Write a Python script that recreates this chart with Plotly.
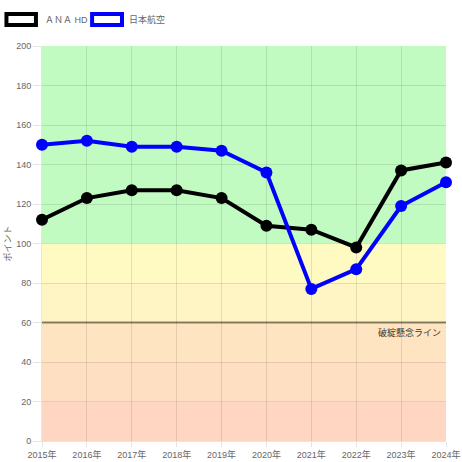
import plotly.graph_objects as go

# data
years = ['2015年', '2016年', '2017年', '2018年', '2019年',
         '2020年', '2021年', '2022年', '2023年', '2024年']
ana = [112, 123, 127, 127, 123, 109, 107, 98, 137, 141]
jal = [150, 152, 149, 149, 147, 136, 77, 87, 119, 131]
series_names = ['ＡＮＡ HD', '日本航空']

band_low = [100, 80, 60, 40, 20, 0]
band_high = [200, 100, 80, 60, 40, 20]
band_colors = ['#c2fbc2', '#fffac2', '#fff4c3', '#ffe4c1', '#ffdfc1', '#ffd6c1']

danger_level = 60
danger_label = '破綻懸念ライン'

FONT = 'Liberation Sans, Arial, Noto Sans CJK JP'
GREY = '#666666'

fig = go.Figure()

for name, vals, col in [(series_names[0], ana, 'black'), (series_names[1], jal, '#0000ff')]:
    fig.add_trace(go.Scatter(
        x=years, y=vals, name=name, mode='lines+markers',
        line=dict(color=col, width=4),
        marker=dict(color=col, size=12),
        cliponaxis=False,
    ))

# coloured background bands
for lo, hi, c in zip(band_low, band_high, band_colors):
    fig.add_shape(type='rect', xref='paper', yref='y', x0=0, x1=1, y0=lo, y1=hi,
                  fillcolor=c, line_width=0, layer='below')

# danger line
fig.add_shape(type='line', xref='paper', yref='y', x0=0, x1=1,
              y0=danger_level, y1=danger_level,
              line=dict(color='#8f8466', width=2), layer='below')
fig.add_annotation(x=1, xref='paper', y=danger_level, yref='y', text=danger_label,
                   showarrow=False, xanchor='right', yanchor='top', yshift=-2, xshift=-3,
                   font=dict(size=9, color='#333333', family=FONT))

# hand made legend above the plot (box with thick border)
legend_items = [(series_names[0], 'black', -0.088, -0.015, 0.003),
                (series_names[1], '#0000ff', 0.124, 0.198, 0.211)]
for name, col, x0, x1, tx in legend_items:
    fig.add_shape(type='rect', xref='paper', yref='paper', x0=x0, x1=x1,
                  y0=1.053, y1=1.081, fillcolor='white', line=dict(color=col, width=4),
                  layer='above')
    fig.add_annotation(x=tx, y=1.067, xref='paper', yref='paper', text=name,
                       showarrow=False, xanchor='left', yanchor='middle',
                       font=dict(size=9, color=GREY, family=FONT))

fig.update_layout(
    width=462, height=462,
    margin=dict(l=42, r=16, t=46, b=21, pad=0),
    paper_bgcolor='white', plot_bgcolor='white',
    showlegend=False,
    font=dict(family=FONT, size=9, color=GREY),
)

fig.update_xaxes(
    type='category', range=[0, 9], showgrid=True, gridcolor='rgba(0,0,0,0.1)',
    ticks='outside', ticklen=5, tickcolor='rgba(0,0,0,0.1)',
    showline=True, linecolor='rgba(0,0,0,0.1)', zeroline=False,
    tickfont=dict(size=9, color=GREY), automargin=False,
)
fig.update_yaxes(
    range=[0, 200], dtick=20, showgrid=True, gridcolor='rgba(0,0,0,0.1)',
    ticks='outside', ticklen=8, tickcolor='rgba(0,0,0,0.1)',
    showline=True, linecolor='rgba(0,0,0,0.1)', zeroline=False,
    tickfont=dict(size=9, color=GREY), automargin=False,
    title=dict(text='ポイント', font=dict(size=9, color=GREY), standoff=3),
)

# drop the default page margin so the figure sits at the window corner
fig.write_html('out.html', config={'displayModeBar': False},
               post_script="document.body.style.margin='0';document.body.style.overflow='hidden';")
